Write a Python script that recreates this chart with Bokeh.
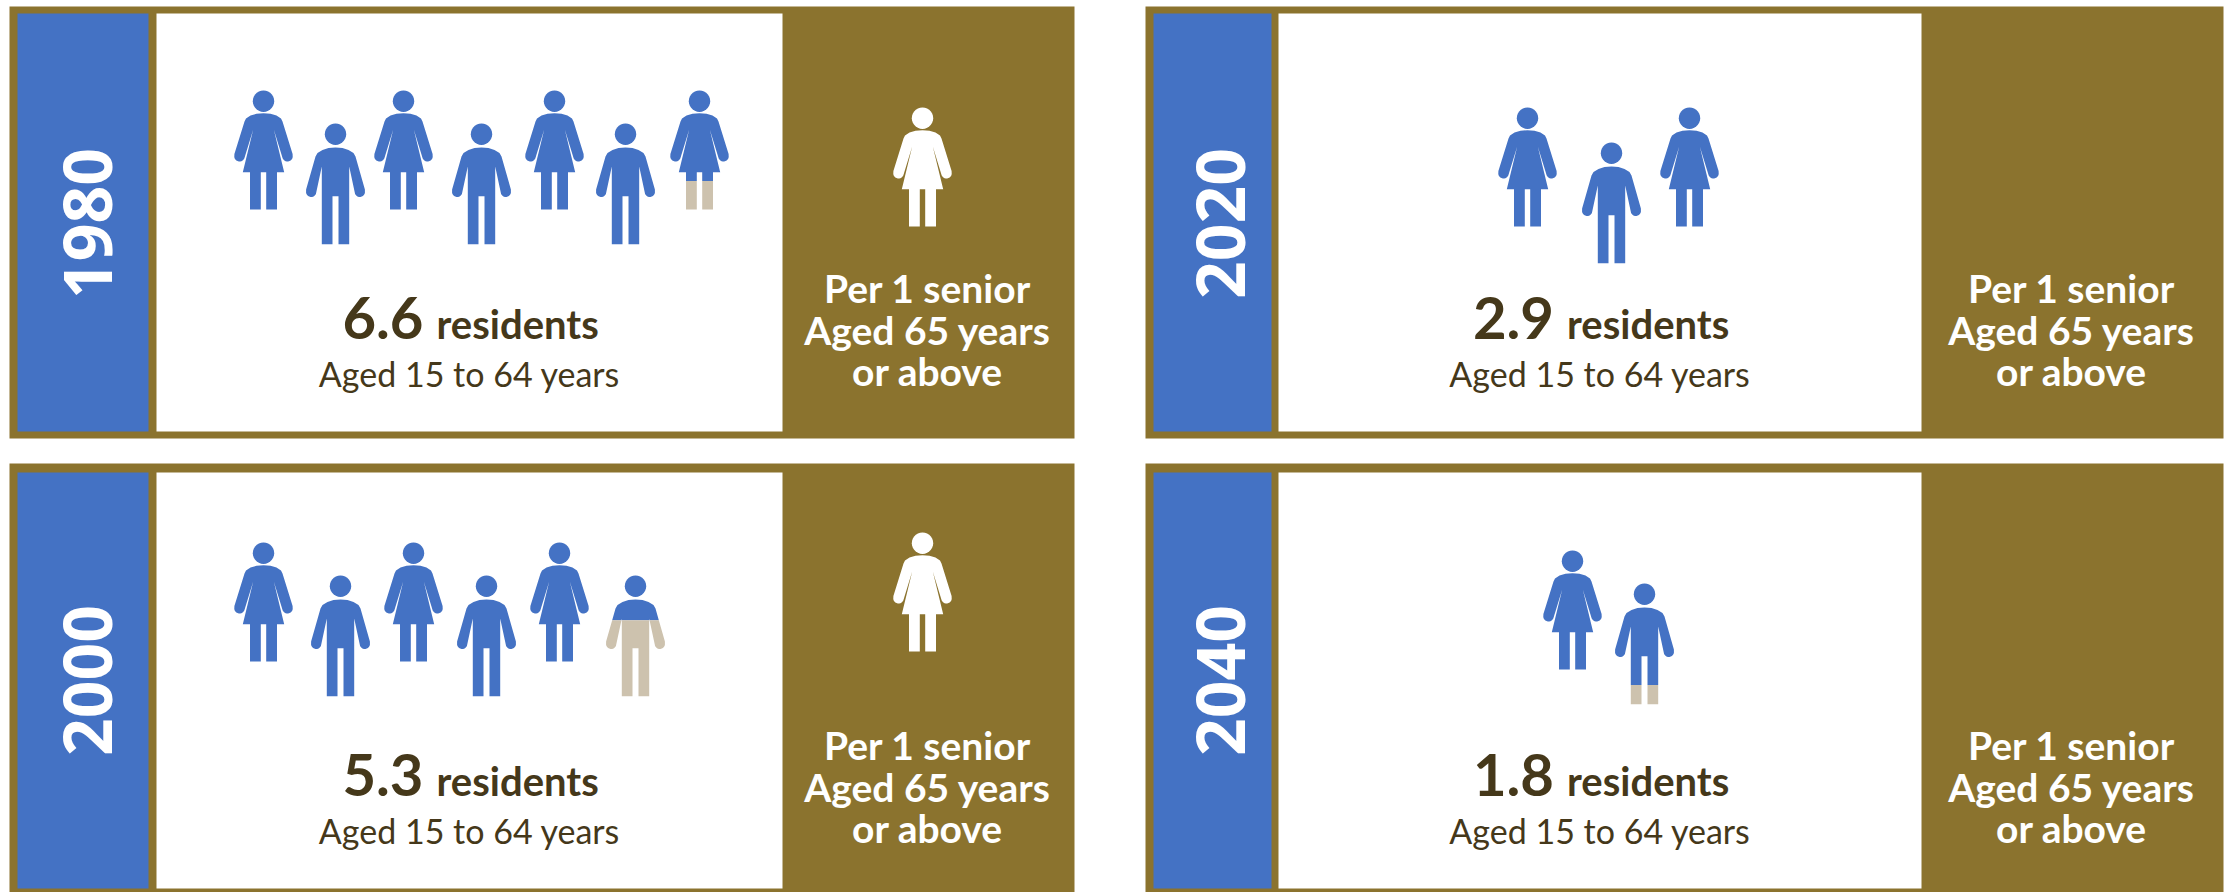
import math
from bokeh.core.properties import value
from bokeh.embed import file_html
from bokeh.models import ColumnDataSource, Range1d
from bokeh.plotting import figure
from bokeh.resources import INLINE

# Residents aged 15 to 64 per senior
years = ["1980", "2000", "2020", "2040"]
residents = [6.6, 5.3, 2.9, 1.8]
# Blue share of the last, partly filled pictogram
last_figure_share = [0.76, 0.37, 1.0, 0.84]
senior_shown = [True, True, False, False]
value_unit = "residents"
working_age = "Aged 15 to 64 years"
senior_lines = ["Per 1 senior", "Aged 65 years", "or above"]

BROWN = "#8B732E"
BLUE = "#4472C4"
TAN = "#CDC2AE"
INK = "#45381A"

# Panel frames: left, right, top, bottom edges of the frame and its blue and white boxes
panels = {
    "1980": dict(frame=(9, 1074, 6, 438), blue=(17, 148), white=(156, 782), inner=(13, 431)),
    "2020": dict(frame=(1145, 2223, 6, 438), blue=(1153, 1271), white=(1278, 1921), inner=(13, 431)),
    "2000": dict(frame=(9, 1074, 463, 892), blue=(17, 148), white=(156, 782), inner=(472, 888)),
    "2040": dict(frame=(1145, 2223, 463, 892), blue=(1153, 1271), white=(1278, 1921), inner=(472, 888)),
}

# Pictogram rows: centre x of each figure, and the top of the women's and men's rows
rows = {
    "1980": dict(xs=[263, 335, 403, 481, 554, 625, 699], women_top=90, men_top=123),
    "2000": dict(xs=[263, 340, 413, 486, 559, 635], women_top=542, men_top=575),
    "2020": dict(xs=[1527, 1611, 1689], women_top=107, men_top=142),
    "2040": dict(xs=[1572, 1644], women_top=550, men_top=583),
}
senior_at = {"1980": (922, 107), "2000": (922, 532)}


def arc(cx, cy, r, a0, a1, n=10):
    return [(cx + r * math.cos(math.radians(a0 + (a1 - a0) * i / n)),
             cy + r * math.sin(math.radians(a0 + (a1 - a0) * i / n))) for i in range(n + 1)]


def mirrored(half):
    return half + [(-x, y) for x, y in reversed(half)]


HEAD = arc(0, 10.7, 10.7, 0, 360, 28)
WOMAN = mirrored([(0, 22.7), (-7, 23.3), (-13, 25), (-17.5, 28), (-19, 31), (-29.1, 63.5)]
                 + arc(-24, 65.7, 5.3, 170, 25)
                 + [(-10.3, 39), (-20.7, 81.7), (-13.5, 81.7), (-13.5, 119), (-2.7, 119), (-2.7, 81.7)])
MAN = mirrored([(0, 24), (-7, 24.6), (-13, 26.5), (-18, 29.5), (-20, 33), (-29.4, 66)]
               + arc(-24.3, 68.3, 5.2, 170, 25)
               + [(-13.7, 43), (-13.7, 120.7), (-3, 120.7), (-3, 72.7)])


def clip(poly, cut, keep_above):
    """Clip a polygon against the horizontal line y = cut."""
    inside = (lambda p: p[1] <= cut) if keep_above else (lambda p: p[1] >= cut)
    out = []
    for i, a in enumerate(poly):
        b = poly[(i + 1) % len(poly)]
        if inside(a):
            out.append(a)
        if inside(a) != inside(b):
            t = (cut - a[1]) / (b[1] - a[1])
            out.append((a[0] + t * (b[0] - a[0]), cut))
    return out


xs_all, ys_all, colors = [], [], []


def add_shape(poly, cx, top, color):
    if len(poly) >= 3:
        xs_all.append([cx + x for x, _ in poly])
        ys_all.append([top + y for _, y in poly])
        colors.append(color)


def add_person(body, cx, top, share=1.0, color=BLUE):
    height = max(y for _, y in body)
    cut = share * height
    for part in (HEAD, body):
        add_shape(clip(part, cut, True), cx, top, color)
        if share < 1:
            add_shape(clip(part, cut, False), cx, top, TAN)


def label(x, baseline, text, size, color, align="center", bold=False):
    # Raise the anchor so the letters stand on the intended baseline
    p.text([x], [baseline - 0.36 * size], text=[text], text_align=align,
           text_baseline="alphabetic", text_color=color, text_font=value("Lato"),
           text_font_size=f"{size}px", text_font_style="bold" if bold else "normal")


p = figure(width=2231, height=892, output_backend="svg", toolbar_location=None,
           x_range=Range1d(0, 2231), y_range=Range1d(892, 0),
           min_border=0, outline_line_color=None, background_fill_color="white")
p.axis.visible = False
p.grid.visible = False

for year in years:
    box = panels[year]
    left, right, top, bottom = box["frame"]
    p.quad(left=[left], right=[right], top=[top], bottom=[bottom], color=BROWN, line_color=None)
    p.quad(left=[box["blue"][0]], right=[box["blue"][1]], top=[box["inner"][0]],
           bottom=[box["inner"][1]], color=BLUE, line_color=None)
    p.quad(left=[box["white"][0]], right=[box["white"][1]], top=[box["inner"][0]],
           bottom=[box["inner"][1]], color="white", line_color=None)

for i, year in enumerate(years):
    row = rows[year]
    count = math.ceil(residents[i])
    for k in range(count):
        body = WOMAN if k % 2 == 0 else MAN
        top = row["women_top"] if k % 2 == 0 else row["men_top"]
        share = last_figure_share[i] if k == count - 1 else 1.0
        add_person(body, row["xs"][k], top, share)
    if senior_shown[i]:
        sx, sy = senior_at[year]
        add_person(WOMAN, sx, sy, 1.0, "white")

p.patches("xs", "ys", fill_color="color", line_color=None,
          source=ColumnDataSource(dict(xs=xs_all, ys=ys_all, color=colors)))

for i, year in enumerate(years):
    box = panels[year]
    top = box["frame"][2]
    centre = sum(box["white"]) / 2
    side = (box["white"][1] + box["frame"][1]) / 2
    year_x = box["blue"][0] + 70 if year in ("1980", "2000") else box["blue"][0] + 67
    p.text([year_x], [top + 217], text=[year], angle=math.pi / 2, text_align="center",
           text_baseline="middle", text_color="white", text_font=value("Open Sans"),
           text_font_size="66px", text_font_style="bold")
    label(centre - 46, top + 332, f"{residents[i]:.1f}", 58, INK, "right", True)
    label(centre - 33, top + 332, value_unit, 40, INK, "left", True)
    label(centre, top + 379, working_age, 34, INK)
    for n, line in enumerate(senior_lines):
        label(side - 1, top + 296 + 41.5 * n, line, 39, "white", bold=True)

open("out.html", "w").write(file_html(p, INLINE))
